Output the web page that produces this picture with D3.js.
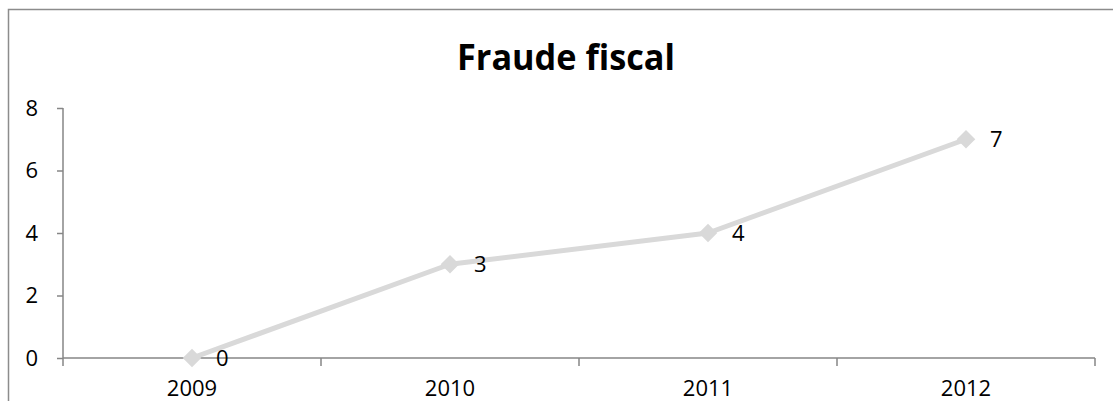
<!DOCTYPE html>
<html>
<head>
<meta charset="utf-8">
<script src="https://cdn.jsdelivr.net/npm/d3@7"></script>
<style>
  body { margin: 0; background: #fff; }
  text { font-family: "Open Sans", sans-serif; fill: #000; }
</style>
</head>
<body>
<svg id="chart" width="1113" height="401"></svg>
<script>
let years = ['2009', '2010', '2011', '2012'];
let values = [0, 3, 4, 7];
let yTicks = [0, 2, 4, 6, 8];
let title = 'Fraude fiscal';

const svg = d3.select('#chart');

// chart frame (cut off at the bottom and right like the screenshot)
svg.append('rect')
    .attr('x', 8.5).attr('y', 9.5)
    .attr('width', 1200).attr('height', 500)
    .attr('fill', 'none')
    .attr('stroke', '#8c8c8c')
    .attr('stroke-width', 1.5);

const plotLeft = 63, plotRight = 1095, plotTop = 108, plotBottom = 358;

const x = d3.scaleBand().domain(years).range([plotLeft, plotRight]);
const y = d3.scaleLinear().domain([0, 8]).range([plotBottom, plotTop]);

// title
svg.append('text')
    .attr('x', 566).attr('y', 70)
    .attr('text-anchor', 'middle')
    .attr('font-size', 36)
    .attr('font-weight', 'bold')
    .attr('textLength', 218)
    .attr('lengthAdjust', 'spacingAndGlyphs')
    .text(title);

// y axis
const yAxis = svg.append('g')
    .attr('transform', `translate(${plotLeft},0)`)
    .call(d3.axisLeft(y).tickValues(yTicks).tickSize(6).tickPadding(19));
yAxis.selectAll('path, line').attr('stroke', '#868686').attr('stroke-width', 1.5);
yAxis.select('.domain').attr('d', `M0,${plotTop}V${plotBottom}`);
yAxis.selectAll('text').attr('font-size', 22).attr('font-family', '"Open Sans", sans-serif').attr('fill', '#000');

// x axis with ticks on category boundaries
const xAxis = svg.append('g').attr('transform', `translate(0,${plotBottom})`);
xAxis.append('line')
    .attr('x1', plotLeft).attr('x2', plotRight)
    .attr('stroke', '#868686').attr('stroke-width', 1.5);
let bounds = years.map(d => x(d)).concat([plotRight]);
xAxis.selectAll('.tk')
    .data(bounds)
    .join('line')
    .attr('class', 'tk')
    .attr('x1', d => d).attr('x2', d => d)
    .attr('y1', 0).attr('y2', 8)
    .attr('stroke', '#868686').attr('stroke-width', 1.5);
xAxis.selectAll('.lbl')
    .data(years)
    .join('text')
    .attr('class', 'lbl')
    .attr('x', d => x(d) + x.bandwidth() / 2)
    .attr('y', 38)
    .attr('text-anchor', 'middle')
    .attr('font-size', 22)
    .text(d => d);

// line
const cx = i => x(years[i]) + x.bandwidth() / 2;
const line = d3.line()
    .x((d, i) => cx(i))
    .y(d => y(d));
svg.append('path')
    .datum(values)
    .attr('d', line)
    .attr('fill', 'none')
    .attr('stroke', '#d9d9d9')
    .attr('stroke-width', 5)
    .attr('stroke-linejoin', 'round');

// diamond markers
svg.selectAll('.mk')
    .data(values)
    .join('path')
    .attr('class', 'mk')
    .attr('d', d3.symbol(d3.symbolDiamond2, 220))
    .attr('transform', (d, i) => `translate(${cx(i)},${y(d)})`)
    .attr('fill', '#d9d9d9');

// data labels
svg.selectAll('.dl')
    .data(values)
    .join('text')
    .attr('class', 'dl')
    .attr('x', (d, i) => cx(i) + 24)
    .attr('y', d => y(d) + 8)
    .attr('font-size', 22)
    .text(d => d);
</script>
</body>
</html>
